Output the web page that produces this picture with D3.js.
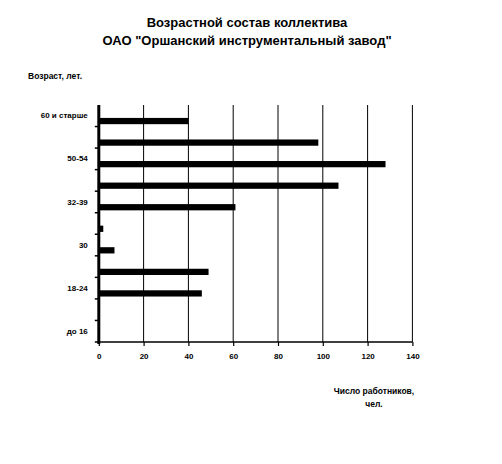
<!DOCTYPE html>
<html>
<head>
<meta charset="utf-8">
<script src="https://cdn.jsdelivr.net/npm/d3@7"></script>
<style>
  body { margin: 0; background: #fff; }
  text { font-family: "Liberation Sans", Arial, sans-serif; font-weight: bold; fill: #000; }
</style>
</head>
<body>
<div id="chart"></div>
<script>
// age groups, top to bottom (only every other one gets a label, like the original)
var ageGroups = ["60 и старше", "55-59", "50-54", "40-49", "32-39", "31", "30", "25-29", "18-24", "16-17", "до 16"];
var workers   = [40, 98, 128, 107, 61, 2, 7, 49, 46, 0, 0];
var xTicks    = [0, 20, 40, 60, 80, 100, 120, 140];

var titleLines = ["Возрастной состав коллектива", "ОАО  \"Оршанский инструментальный завод\""];
var yTitle = "Возраст, лет.";
var xTitleLines = ["Число работников,", "чел."];

var totwidth = 502, totheight = 464;
var plot = {left: 98.8, right: 412.4, top: 105, bottom: 342};

var svg = d3.select("#chart").append("svg")
    .attr("width", totwidth)
    .attr("height", totheight);

var xScale = d3.scaleLinear()
    .domain([0, 140])
    .range([plot.left, plot.right]);

var yScale = d3.scaleBand()
    .domain(ageGroups)
    .range([plot.top, plot.bottom])
    .padding(0);

// title
svg.selectAll(".title")
    .data(titleLines)
    .enter().append("text")
      .attr("class", "title")
      .attr("x", 247)
      .attr("y", function(d, i) { return 27 + i * 17.5; })
      .attr("text-anchor", "middle")
      .style("font-size", "13px")
      .text(function(d) { return d; });

// grid lines
svg.selectAll(".grid")
    .data(xTicks.slice(1))
    .enter().append("line")
      .attr("class", "grid")
      .attr("x1", function(d) { return xScale(d); })
      .attr("x2", function(d) { return xScale(d); })
      .attr("y1", plot.top)
      .attr("y2", plot.bottom)
      .attr("stroke", "#000")
      .attr("stroke-width", 1);

// bars
svg.selectAll(".bar")
    .data(ageGroups)
    .enter().append("rect")
      .attr("class", "bar")
      .attr("x", xScale(0))
      .attr("y", function(d) { return yScale(d) + yScale.bandwidth() * 0.6; })
      .attr("width", function(d, i) { return xScale(workers[i]) - xScale(0); })
      .attr("height", yScale.bandwidth() * 0.29)
      .attr("fill", "#000");

// x axis
var xAxis = svg.append("g")
    .attr("transform", "translate(0," + plot.bottom + ")")
    .call(d3.axisBottom(xScale)
      .tickValues(xTicks)
      .tickSize(4)
      .tickPadding(7)
      .tickFormat(d3.format("d")));
xAxis.select(".domain").attr("stroke-width", 1.5).attr("d", "M" + (plot.left - 1.5) + ",0H" + plot.right);
xAxis.selectAll(".tick line").attr("stroke-width", 1.2);
xAxis.selectAll(".tick text").style("font-size", "8px").attr("font-family", null);

// y axis
var yAxis = svg.append("g")
    .attr("transform", "translate(" + plot.left + ",0)")
    .call(d3.axisLeft(yScale).tickSize(0).tickPadding(11)
      .tickFormat(function(d, i) { return i % 2 === 0 ? d : ""; }));
yAxis.select(".domain").attr("stroke-width", 3)
    .attr("d", "M0," + plot.top + "V" + (plot.bottom + 2));
yAxis.selectAll(".tick text").style("font-size", "8px").attr("font-family", null);

// y tick marks at category boundaries
svg.selectAll(".ytick")
    .data(ageGroups.slice(1).concat(["end"]))
    .enter().append("line")
      .attr("class", "ytick")
      .attr("x1", plot.left - 4)
      .attr("x2", plot.left)
      .attr("y1", function(d, i) { return plot.top + yScale.step() * (i + 1); })
      .attr("y2", function(d, i) { return plot.top + yScale.step() * (i + 1); })
      .attr("stroke", "#000")
      .attr("stroke-width", 1.5);

// axis titles
svg.append("text")
    .attr("x", 28)
    .attr("y", 78.5)
    .style("font-size", "8.5px")
    .text(yTitle);

svg.selectAll(".xtitle")
    .data(xTitleLines)
    .enter().append("text")
      .attr("class", "xtitle")
      .attr("x", 374)
      .attr("y", function(d, i) { return 394 + i * 13; })
      .attr("text-anchor", "middle")
      .style("font-size", "8.5px")
      .text(function(d) { return d; });
</script>
</body>
</html>
